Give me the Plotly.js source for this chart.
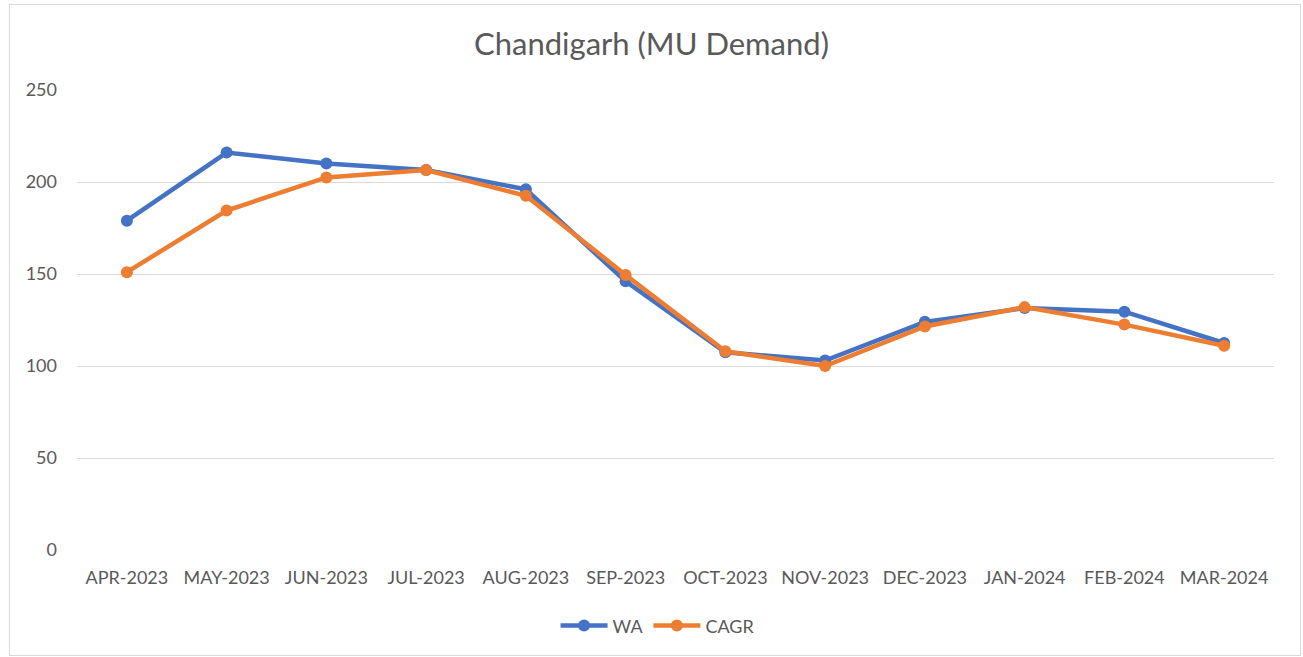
<!DOCTYPE html>
<html><head><meta charset="utf-8">
<script src="https://cdn.plot.ly/plotly-3.0.1.min.js"></script>
<style>
html,body{margin:0;padding:0;background:#fff;}
#wrap{position:relative;width:1303px;height:657px;}
#chart{width:1303px;height:657px;}
#frame{position:absolute;left:9px;top:4px;width:1290px;height:650px;border:1px solid #d9d9d9;pointer-events:none;}
</style></head>
<body>
<div id="wrap"><div id="chart"></div><div id="frame"></div></div>
<script>
const months = ["APR-2023","MAY-2023","JUN-2023","JUL-2023","AUG-2023","SEP-2023","OCT-2023","NOV-2023","DEC-2023","JAN-2024","FEB-2024","MAR-2024"];
const waValues = [179, 216, 210, 206.5, 196, 146, 107.5, 103, 124, 131.5, 129.5, 112.5];
const cagrValues = [151, 184.5, 202.5, 206.5, 192.5, 149.5, 108, 100, 121.5, 132, 122.5, 111];
const yTicks = [0, 50, 100, 150, 200, 250];

const font = "Lato, 'Open Sans', sans-serif";
const grey = "#595959";

const traces = [
  {x: months, y: waValues, name: "WA", type: "scatter", mode: "lines+markers",
   line: {color: "#4472C4", width: 4.5}, marker: {color: "#4472C4", size: 12}},
  {x: months, y: cagrValues, name: "CAGR", type: "scatter", mode: "lines+markers",
   line: {color: "#ED7D31", width: 4.5}, marker: {color: "#ED7D31", size: 12}}
];

const layout = {
  width: 1303, height: 657,
  margin: {l: 77, r: 29, t: 90, b: 107},
  paper_bgcolor: "#fff", plot_bgcolor: "#fff",
  font: {family: font, color: grey, size: 18},
  title: {text: "Chandigarh (MU Demand)", x: 0.5, xanchor: "center", y: 0.933, yanchor: "middle",
          font: {family: font, size: 31, color: grey}},
  xaxis: {type: "category", range: [-0.5, 11.5], tickmode: "array", tickvals: months, ticktext: months,
          showgrid: false, zeroline: false, showline: false, ticks: "",
          ticklabelstandoff: 15, tickfont: {size: 18, color: grey}, fixedrange: true},
  yaxis: {range: [0, 250], tickvals: yTicks, showgrid: true, gridcolor: "#d9d9d9", gridwidth: 1,
          zeroline: false, showline: false, ticks: "", ticklabelstandoff: 19,
          tickfont: {size: 18, color: grey}, fixedrange: true},
  showlegend: true,
  legend: {orientation: "h", x: 0.485, xanchor: "center", y: -0.165, yanchor: "middle",
           font: {size: 18, color: grey}, traceorder: "normal", itemwidth: 47},
  hovermode: false
};

Plotly.newPlot("chart", traces, layout, {displayModeBar: false, staticPlot: true});
</script>
</body></html>
